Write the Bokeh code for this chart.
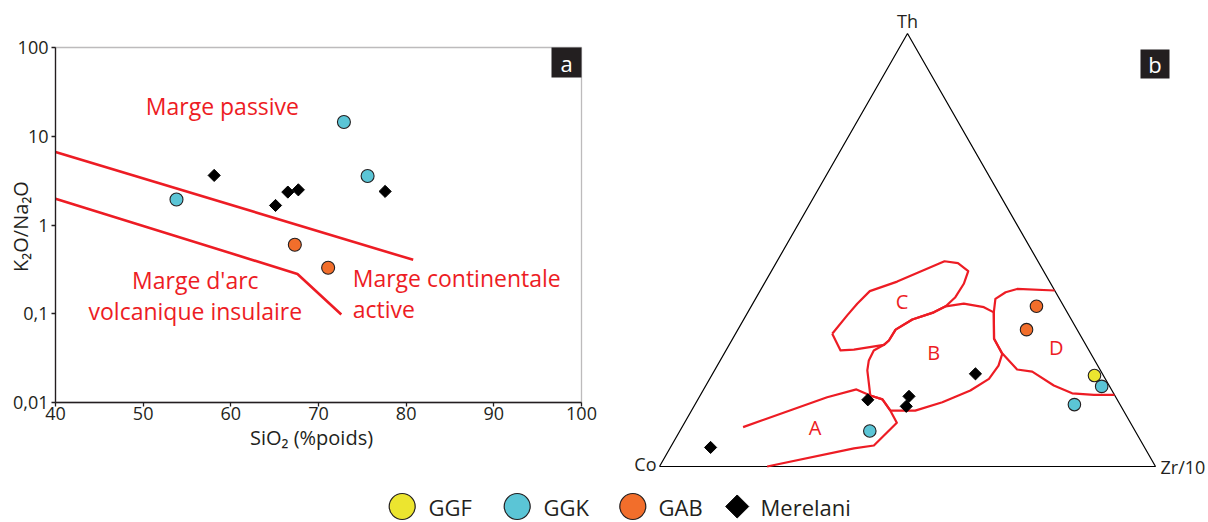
import math
from bokeh.plotting import figure
from bokeh.models import (Range1d, FixedTicker, CustomJSTickFormatter, Label, BoxAnnotation,
                          LinearAxis, LogAxis, LogScale, LinearScale)
from bokeh.embed import file_html
from bokeh.resources import INLINE
from bokeh.core.properties import value

FONT = "Open Sans"
INK = "#231f20"
RED = "#ed1c24"
C_GGF = "#ece52f"
C_GGK = "#5bc5d6"
C_GAB = "#f26e2b"

# ---------------- Panel a : K2O/Na2O vs SiO2 ----------------
ggk_sio2 = [53.8, 72.9, 75.6]
ggk_ratio = [1.94, 14.5, 3.56]
gab_sio2 = [67.3, 71.1]
gab_ratio = [0.60, 0.33]
mer_sio2 = [58.1, 65.1, 66.5, 67.7, 77.6]
mer_ratio = [3.62, 1.66, 2.35, 2.49, 2.39]

# field boundaries
passive_sio2 = [40.0, 80.8]
passive_ratio = [6.64, 0.405]
arc_sio2 = [40.0, 67.6, 72.6]
arc_ratio = [1.98, 0.281, 0.098]

x_ticks = [40, 50, 60, 70, 80, 90, 100]
y_ticks = [0.01, 0.1, 1, 10, 100]

# ---------------- Panel b : Th - Co - Zr/10 (%) ----------------
mer_th = [4.4, 15.4, 16.2, 13.9, 21.4]
mer_co = [87.5, 50.3, 41.6, 43.3, 25.6]
mer_zr = [8.1, 34.3, 42.2, 42.8, 53.0]
ggk_th = [8.2, 14.3, 18.5]
ggk_co = [53.5, 9.2, 1.6]
ggk_zr = [38.3, 76.5, 79.9]
ggf_th = [21.0]
ggf_co = [1.8]
ggf_zr = [77.2]
gab_th = [37.0, 31.6]
gab_co = [5.5, 10.2]
gab_zr = [57.5, 58.2]

# field outlines (Th %, Zr/10 %)
A_th = [9.1, 16.0, 17.8, 16.4, 15.5, 12.9, 10.1, 4.85, 4.2, 0.0]
A_zr = [12.3, 25.8, 30.8, 34.3, 37.2, 40.1, 42.8, 40.8, 37.1, 21.7]
B_th = [12.9, 12.9, 14.85, 17.55, 20.25, 23.3, 26.0, 29.5, 35.6, 36.8, 37.6, 37.0,
        35.6, 33.95, 31.6, 29.1, 28.1, 26.8, 24.5, 22.2, 16.4, 15.5, 12.9]
B_zr = [40.1, 45.1, 49.6, 53.9, 56.3, 56.7, 56.1, 52.7, 49.6, 47.0, 42.55, 39.2,
        37.5, 34.0, 31.8, 31.7, 31.2, 29.8, 29.95, 30.8, 34.3, 37.2, 40.1]
C_th = [30.65, 26.8, 27.0, 28.1, 29.1, 31.6, 33.95, 35.6, 37.0, 39.1, 42.2, 45.1,
        46.95, 47.4, 42.7, 40.5, 37.6, 34.9, 30.65]
C_zr = [19.5, 23.1, 25.7, 31.2, 31.7, 31.8, 34.0, 37.5, 39.2, 40.1, 40.25, 39.7,
        36.7, 33.76, 26.57, 22.15, 21.06, 20.39, 19.5]
D_th = [40.65, 41.0, 40.25, 38.7, 35.6, 29.5, 26.17, 22.4, 21.9, 18.7, 16.9, 16.56, 16.56]
D_zr = [59.35, 51.6, 49.66, 48.37, 49.6, 52.7, 56.0, 60.9, 64.2, 70.15, 74.75, 79.3, 83.44]

field_names = ["A", "B", "C", "D"]
field_label_th = [9.1, 26.4, 38.2, 27.4]
field_label_zr = [26.8, 42.1, 29.8, 66.3]

apex_names = ["Co", "Zr/10", "Th"]
apex_th = [0, 0, 100]
apex_zr = [0, 100, 0]

legend_labels = ["GGF", "GGK", "GAB", "Merelani"]


def tern(th, zr):
    """Ternary -> cartesian (x = Zr + Th/2, y = Th), fractions."""
    return ([(z + t / 2.0) / 100.0 for t, z in zip(th, zr)],
            [t / 100.0 for t in th])


# ---------------- layout geometry (pixels, from top-left) ----------------
W, H = 1208, 522
A_L, A_R, A_T, A_B = 55, 581, 47, 402          # panel a box
T_X0, T_X1, T_BASE, T_APEX = 659, 1155, 466, 33  # ternary triangle

sx = (x_ticks[-1] - x_ticks[0]) / (A_R - A_L)
dec = (A_B - A_T) / (math.log10(y_ticks[-1]) - math.log10(y_ticks[0]))
sio2_range = Range1d(x_ticks[0] - A_L * sx, x_ticks[0] + (W - A_L) * sx)
ratio_range = Range1d(10 ** (math.log10(y_ticks[0]) - (H - A_B) / dec),
                      10 ** (math.log10(y_ticks[-1]) + A_T / dec))
tw = T_X1 - T_X0
th_ = T_BASE - T_APEX
tx_range = Range1d(-T_X0 / tw, (W - T_X0) / tw)
ty_range = Range1d(-(H - T_BASE) / th_, T_BASE / th_)

p = figure(width=W, height=H, x_range=Range1d(0, W), y_range=Range1d(0, H),
           x_axis_type=None, y_axis_type=None, output_backend="svg",
           toolbar_location=None, min_border=0)
p.extra_x_ranges = {"sio2": sio2_range, "tx": tx_range}
p.extra_y_ranges = {"ratio": ratio_range, "ty": ty_range}
p.extra_x_scales = {"sio2": LinearScale(), "tx": LinearScale()}
p.extra_y_scales = {"ratio": LogScale(), "ty": LinearScale()}
p.outline_line_color = None
p.background_fill_color = "white"
p.border_fill_color = "white"

A = dict(x_range_name="sio2", y_range_name="ratio")
T = dict(x_range_name="tx", y_range_name="ty")

# =============== panel a ===============
xaxis = LinearAxis(**A, fixed_location=y_ticks[0], ticker=FixedTicker(ticks=x_ticks),
                   bounds=(x_ticks[0], x_ticks[-1]))
yaxis = LogAxis(**A, fixed_location=x_ticks[0], ticker=FixedTicker(ticks=y_ticks),
                bounds=(y_ticks[0], y_ticks[-1]),
                formatter=CustomJSTickFormatter(code="return tick.toString().replace('.', ',');"))
for ax in (xaxis, yaxis):
    ax.axis_line_color = INK
    ax.axis_line_width = 1.3
    ax.major_tick_line_color = INK
    ax.major_tick_line_width = 1.3
    ax.major_tick_out = 4
    ax.major_tick_in = 0
    ax.minor_tick_line_color = None
    ax.major_label_text_font = FONT
    ax.major_label_text_font_size = "18px"
    ax.major_label_text_color = INK
xaxis.major_label_standoff = 0
yaxis.major_label_standoff = 3
p.add_layout(xaxis, "below")
p.add_layout(yaxis, "left")

p.add_layout(BoxAnnotation(**A, left=x_ticks[0], right=x_ticks[-1], bottom=y_ticks[0],
                           top=y_ticks[-1], fill_alpha=0, line_color=INK, line_width=1.3))

p.line(passive_sio2, passive_ratio, line_color=RED, line_width=2.6, **A)
p.line(arc_sio2, arc_ratio, line_color=RED, line_width=2.6, **A)

p.scatter(mer_sio2, mer_ratio, marker="square", angle=math.pi / 4, size=8.6,
          fill_color="black", line_color="black", **A)
p.scatter(ggk_sio2, ggk_ratio, size=13, fill_color=C_GGK, line_color=INK, line_width=1.1, **A)
p.scatter(gab_sio2, gab_ratio, size=13, fill_color=C_GAB, line_color=INK, line_width=1.1, **A)


def red_label(x, y, text, align="left", size="23px", **kw):
    p.add_layout(Label(x=x, y=y, text=text, text_align=align, text_baseline="middle",
                       text_color=RED, text_font=FONT, text_font_size=size, **kw))


red_label(50.3, 21.7, "Marge passive", **A)
red_label(55.95, 0.237, "Marge d'arc", "center", **A)
red_label(55.95, 0.108, "volcanique insulaire", "center", **A)
red_label(73.9, 0.255, "Marge continentale", **A)
red_label(73.9, 0.114, "active", **A)

# axis titles (pixel positions)
p.add_layout(Label(x=311, y=H - 437, text="SiO₂ (%poids)", text_align="center",
                   text_baseline="middle", text_color=INK, text_font=FONT,
                   text_font_size="20px"))
p.add_layout(Label(x=20, y=H - 226, text="K₂O/Na₂O", angle=math.pi / 2,
                   text_align="center", text_baseline="middle", text_color=INK,
                   text_font=FONT, text_font_size="20px"))

# panel tag a
p.add_layout(BoxAnnotation(left=551, right=581, top=H - 47, bottom=H - 77,
                           fill_color=INK, fill_alpha=1, line_color=None))
p.add_layout(Label(x=566, y=H - 62, text="a", text_align="center", text_baseline="middle",
                   text_color="white", text_font=FONT, text_font_size="22px"))

# =============== panel b (ternary) ===============
tx, ty = tern(apex_th + apex_th[:1], apex_zr + apex_zr[:1])
p.line(tx, ty, line_color="black", line_width=1.2, **T)

for fth, fzr in ((A_th, A_zr), (B_th, B_zr), (C_th, C_zr), (D_th, D_zr)):
    fx, fy = tern(fth, fzr)
    p.line(fx, fy, line_color=RED, line_width=2.2, line_join="round", **T)

fx, fy = tern(field_label_th, field_label_zr)
for name, x, y in zip(field_names, fx, fy):
    p.add_layout(Label(x=x, y=y, text=name, text_align="center", text_baseline="middle",
                       text_color=RED, text_font=FONT, text_font_size="20px", **T))

mx, my = tern(mer_th, mer_zr)
p.scatter(mx, my, marker="square", angle=math.pi / 4, size=8.6,
          fill_color="black", line_color="black", **T)
for gth, gzr, col in ((ggk_th, ggk_zr, C_GGK), (ggf_th, ggf_zr, C_GGF), (gab_th, gab_zr, C_GAB)):
    gx, gy = tern(gth, gzr)
    p.scatter(gx, gy, size=12.5, fill_color=col, line_color=INK, line_width=1.1, **T)

ax_, ay_ = tern(apex_th, apex_zr)
p.add_layout(Label(x=ax_[0], y=ay_[0], text=apex_names[0], text_align="right",
                   text_baseline="middle", x_offset=-3, y_offset=3, text_color=INK,
                   text_font=FONT, text_font_size="18px", **T))
p.add_layout(Label(x=ax_[1], y=ay_[1], text=apex_names[1], text_align="left",
                   text_baseline="middle", x_offset=5, y_offset=0, text_color=INK,
                   text_font=FONT, text_font_size="18px", **T))
p.add_layout(Label(x=ax_[2], y=ay_[2], text=apex_names[2], text_align="center",
                   text_baseline="middle", y_offset=13, text_color=INK,
                   text_font=FONT, text_font_size="18px", **T))

# panel tag b
p.add_layout(BoxAnnotation(left=1140, right=1169, top=H - 49, bottom=H - 78,
                           fill_color=INK, fill_alpha=1, line_color=None))
p.add_layout(Label(x=1154.5, y=H - 63.5, text="b", text_align="center", text_baseline="middle",
                   text_color="white", text_font=FONT, text_font_size="22px"))

# =============== legend ===============
marker_x = [401.7, 516.7, 632.3, 736.7]
text_x = [428, 543, 658, 760]
leg_y = H - 506
p.scatter(marker_x[:3], [leg_y] * 3, size=26, fill_color=[C_GGF, C_GGK, C_GAB],
          line_color=INK, line_width=1.2)
p.scatter(marker_x[3:], [leg_y], marker="square", angle=math.pi / 4, size=16.3,
          fill_color="black", line_color="black")
p.text(text_x, [leg_y] * 4, text=legend_labels, text_baseline="middle", text_align="left",
       text_font=value(FONT), text_font_size="22px", text_color=INK)

open("out.html", "w").write(file_html(p, INLINE))
